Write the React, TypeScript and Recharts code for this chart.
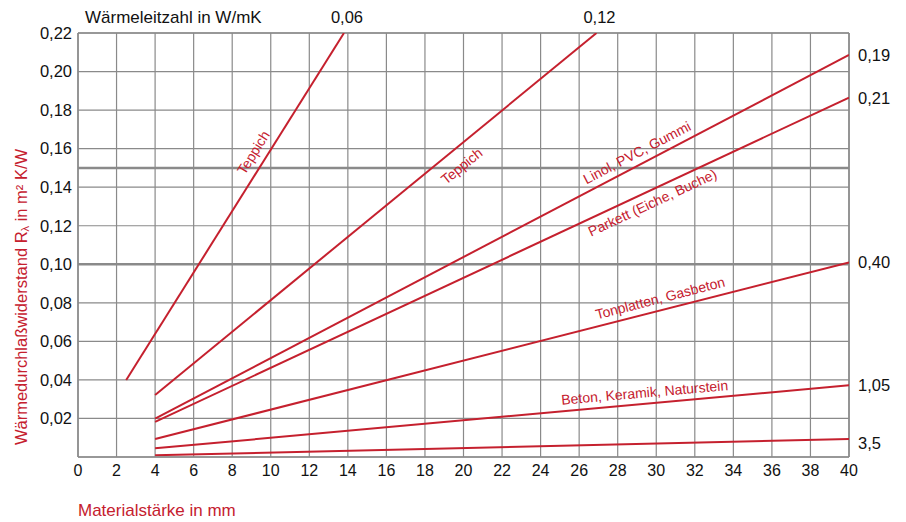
import { LineChart, Line, XAxis, YAxis, CartesianGrid, ReferenceLine, ReferenceDot } from "recharts"

const RED = "#c5202e"
const GRID = "#8a8a8a"
const FONT = "'Liberation Sans', Arial, sans-serif"

// x = Materialstärke (mm), y = R (m² K/W)
const teppich006 = [
  { x: 2.5, y: 0.04 },
  { x: 13.8, y: 0.22 },
]
const teppich012 = [
  { x: 4, y: 0.0322 },
  { x: 26.9, y: 0.22 },
]
const linol019 = [
  { x: 4, y: 0.0199 },
  { x: 40, y: 0.2086 },
]
const parkett021 = [
  { x: 4, y: 0.0182 },
  { x: 40, y: 0.1865 },
]
const tonplatten040 = [
  { x: 4, y: 0.0093 },
  { x: 40, y: 0.101 },
]
const beton105 = [
  { x: 4, y: 0.0045 },
  { x: 40, y: 0.0372 },
]
const stein35 = [
  { x: 4, y: 0.0009 },
  { x: 40, y: 0.0093 },
]

const xTicks = [0, 2, 4, 6, 8, 10, 12, 14, 16, 18, 20, 22, 24, 26, 28, 30, 32, 34, 36, 38, 40]
const yTicks = [0, 0.02, 0.04, 0.06, 0.08, 0.1, 0.12, 0.14, 0.16, 0.18, 0.2, 0.22]

const series = [teppich006, teppich012, linol019, parkett021, tonplatten040, beton105, stein35]

// material names along the lines
const materials = [
  { text: "Teppich", x: 9.1, y: 0.158, angle: -58 },
  { text: "Teppich", x: 19.9, y: 0.151, angle: -39 },
  { text: "Linol, PVC, Gummi", x: 29.0, y: 0.158, angle: -27.5 },
  { text: "Parkett (Eiche, Buche)", x: 29.8, y: 0.132, angle: -25 },
  { text: "Tonplatten, Gasbeton", x: 30.2, y: 0.0825, angle: -14.5 },
  { text: "Beton, Keramik, Naturstein", x: 29.4, y: 0.0335, angle: -5 },
]

// Wärmeleitzahl labels
const topLabels = [
  { text: "0,06", x: 13.8, y: 0.22 },
  { text: "0,12", x: 26.9, y: 0.22 },
]
const rightLabels = [
  { text: "0,19", x: 40, y: 0.2086 },
  { text: "0,21", x: 40, y: 0.1865 },
  { text: "0,40", x: 40, y: 0.101 },
  { text: "1,05", x: 40, y: 0.0372 },
  { text: "3,5", x: 40, y: 0.0075 },
]

const fmt = (v: number) => (v === 0 ? "" : v.toFixed(2).replace(".", ","))

const rotated = (text: string, angle: number) => (props: any) => {
  const { x, y } = props.viewBox
  return (
    <text
      x={x}
      y={y}
      transform={`rotate(${angle} ${x} ${y})`}
      textAnchor="middle"
      dominantBaseline="central"
      fill={RED}
      fontSize={14}
      fontFamily={FONT}
    >
      {text}
    </text>
  )
}

const plain = (text: string, dx: number, dy: number, anchor: string) => (props: any) => {
  const { x, y } = props.viewBox
  return (
    <text x={x + dx} y={y + dy} textAnchor={anchor} dominantBaseline="central" fill="#111" fontSize={16.5} fontFamily={FONT}>
      {text}
    </text>
  )
}

export default function App() {
  return (
    <div style={{ position: "absolute", left: 0, top: 0, width: 906, height: 522, background: "#fff" }}>
      <LineChart width={906} height={522} margin={{ top: 33, right: 57, bottom: 0, left: 18 }}>
        <CartesianGrid stroke={GRID} strokeWidth={1.2} horizontalValues={yTicks} verticalValues={xTicks} />
        <XAxis
          type="number"
          dataKey="x"
          domain={[0, 40]}
          ticks={xTicks}
          interval={0}
          allowDataOverflow
          height={65}
          tickLine={false}
          axisLine={{ stroke: GRID, strokeWidth: 1.5 }}
          tick={{ fill: "#111", fontSize: 16, fontFamily: FONT }}
          tickSize={6}
        />
        <YAxis
          type="number"
          dataKey="y"
          domain={[0, 0.22]}
          ticks={yTicks}
          interval={0}
          allowDataOverflow
          width={60}
          tickLine={false}
          axisLine={{ stroke: GRID, strokeWidth: 1.5 }}
          tick={{ fill: "#111", fontSize: 16.5, fontFamily: FONT }}
          tickSize={4}
          tickFormatter={fmt}
        />
        <ReferenceLine y={0.22} stroke={GRID} strokeWidth={1.5} />
        <ReferenceLine x={40} stroke={GRID} strokeWidth={1.5} />
        <ReferenceLine y={0.1} stroke={GRID} strokeWidth={2.5} />
        <ReferenceLine y={0.15} stroke={GRID} strokeWidth={2.5} />
        {series.map((d, i) => (
          <Line
            key={i}
            data={d}
            dataKey="y"
            type="linear"
            stroke={RED}
            strokeWidth={2}
            dot={false}
            activeDot={false}
            isAnimationActive={false}
          />
        ))}
        {materials.map((m, i) => (
          <ReferenceDot key={"m" + i} x={m.x} y={m.y} r={0} stroke="none" fill="none" label={rotated(m.text, m.angle)} />
        ))}
        {topLabels.map((m, i) => (
          <ReferenceDot key={"t" + i} x={m.x} y={m.y} r={0} stroke="none" fill="none" ifOverflow="visible" label={plain(m.text, 3, -16, "middle")} />
        ))}
        {rightLabels.map((m, i) => (
          <ReferenceDot key={"r" + i} x={m.x} y={m.y} r={0} stroke="none" fill="none" ifOverflow="visible" label={plain(m.text, 9, 0, "start")} />
        ))}
      </LineChart>
      <svg width={906} height={522} style={{ position: "absolute", left: 0, top: 0, pointerEvents: "none" }}>
        <text x={85} y={17} dominantBaseline="central" fill="#111" fontSize={17} fontFamily={FONT}>
          Wärmeleitzahl in W/mK
        </text>
        <text
          x={21}
          y={297}
          transform="rotate(-90 21 297)"
          textAnchor="middle"
          dominantBaseline="central"
          fill={RED}
          fontSize={16.5}
          fontFamily={FONT}
        >
          Wärmedurchlaßwiderstand R<tspan fontSize={11} dy={4}>λ</tspan>
          <tspan dy={-4}> in m² K/W</tspan>
        </text>
        <text x={78} y={510} dominantBaseline="central" fill={RED} fontSize={17} fontFamily={FONT}>
          Materialstärke in mm
        </text>
      </svg>
    </div>
  )
}
